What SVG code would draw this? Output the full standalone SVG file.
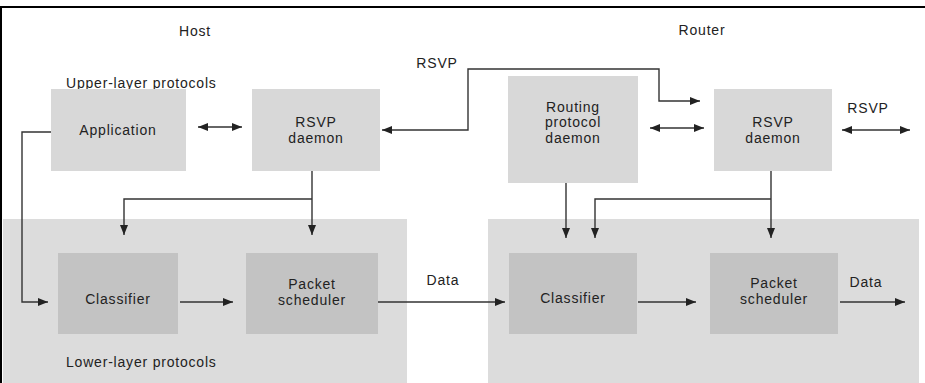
<svg xmlns="http://www.w3.org/2000/svg" width="925" height="383" viewBox="0 0 925 383">
<defs>
<style>
text{font-family:"Liberation Sans",Arial,sans-serif;font-size:14px;fill:#222;letter-spacing:0.8px}
.c{text-anchor:middle}
.area{fill:#dcdcdc}
.up{fill:#d8d8d8}
.low{fill:#c3c3c3}
.ln{fill:none;stroke:#333;stroke-width:1.4}
</style>
<marker id="ah" markerUnits="userSpaceOnUse" markerWidth="12" markerHeight="10" refX="10" refY="4" orient="auto-start-reverse">
<path d="M0,0 L10,4 L0,8 Z" fill="#222"/>
</marker>
</defs>
<rect width="925" height="383" fill="#fff"/>
<path d="M1,383 V7 H925" fill="none" stroke="#000" stroke-width="2"/>

<g id="host-lower-area"><rect class="area" x="3" y="219" width="404" height="164"/></g>
<g id="router-lower-area"><rect class="area" x="488" y="219" width="431" height="164"/></g>

<text class="c" x="195" y="36">Host</text>
<text class="c" x="702" y="35">Router</text>
<text x="66" y="88">Upper-layer protocols</text>
<text x="66" y="367">Lower-layer protocols</text>
<text class="c" x="437" y="68">RSVP</text>
<text class="c" x="868" y="113">RSVP</text>
<text class="c" x="443" y="285">Data</text>
<text class="c" x="866" y="287">Data</text>

<g id="application"><rect class="up" x="51" y="89" width="135" height="82"/><text class="c" x="118" y="135">Application</text></g>
<g id="host-rsvp"><rect class="up" x="252" y="89" width="128" height="82"/><text class="c" x="316" y="127">RSVP</text><text class="c" x="316" y="143">daemon</text></g>
<g id="routing-daemon"><rect class="up" x="508" y="76" width="130" height="107"/><text class="c" x="573" y="112">Routing</text><text class="c" x="573" y="127">protocol</text><text class="c" x="573" y="143">daemon</text></g>
<g id="router-rsvp"><rect class="up" x="714" y="89" width="118" height="82"/><text class="c" x="773" y="127">RSVP</text><text class="c" x="773" y="143">daemon</text></g>
<g id="host-classifier"><rect class="low" x="58" y="253" width="120" height="81"/><text class="c" x="118" y="304">Classifier</text></g>
<g id="host-scheduler"><rect class="low" x="246" y="253" width="132" height="81"/><text class="c" x="312" y="289">Packet</text><text class="c" x="312" y="305">scheduler</text></g>
<g id="router-classifier"><rect class="low" x="509" y="253" width="128" height="81"/><text class="c" x="573" y="303">Classifier</text></g>
<g id="router-scheduler"><rect class="low" x="710" y="253" width="128" height="81"/><text class="c" x="774" y="288">Packet</text><text class="c" x="774" y="304">scheduler</text></g>

<g id="connectors">
<path class="ln" d="M51,132 H22 V302 H48" marker-end="url(#ah)"/>
<path class="ln" d="M198,127 H242" marker-start="url(#ah)" marker-end="url(#ah)"/>
<path class="ln" d="M382,130 H468 V69 H659 V101 H700" marker-start="url(#ah)" marker-end="url(#ah)"/>
<path class="ln" d="M312,171 V235" marker-end="url(#ah)"/>
<path class="ln" d="M312,199 H124 V235" marker-end="url(#ah)"/>
<path class="ln" d="M180,302 H233" marker-end="url(#ah)"/>
<path class="ln" d="M378,302 H505" marker-end="url(#ah)"/>
<path class="ln" d="M650,128 H704" marker-start="url(#ah)" marker-end="url(#ah)"/>
<path class="ln" d="M842,130 H910" marker-start="url(#ah)" marker-end="url(#ah)"/>
<path class="ln" d="M566,183 V238" marker-end="url(#ah)"/>
<path class="ln" d="M771,171 V238" marker-end="url(#ah)"/>
<path class="ln" d="M771,199 H595 V238" marker-end="url(#ah)"/>
<path class="ln" d="M638,302 H696" marker-end="url(#ah)"/>
<path class="ln" d="M840,302 H905" marker-end="url(#ah)"/>
</g>
</svg>
